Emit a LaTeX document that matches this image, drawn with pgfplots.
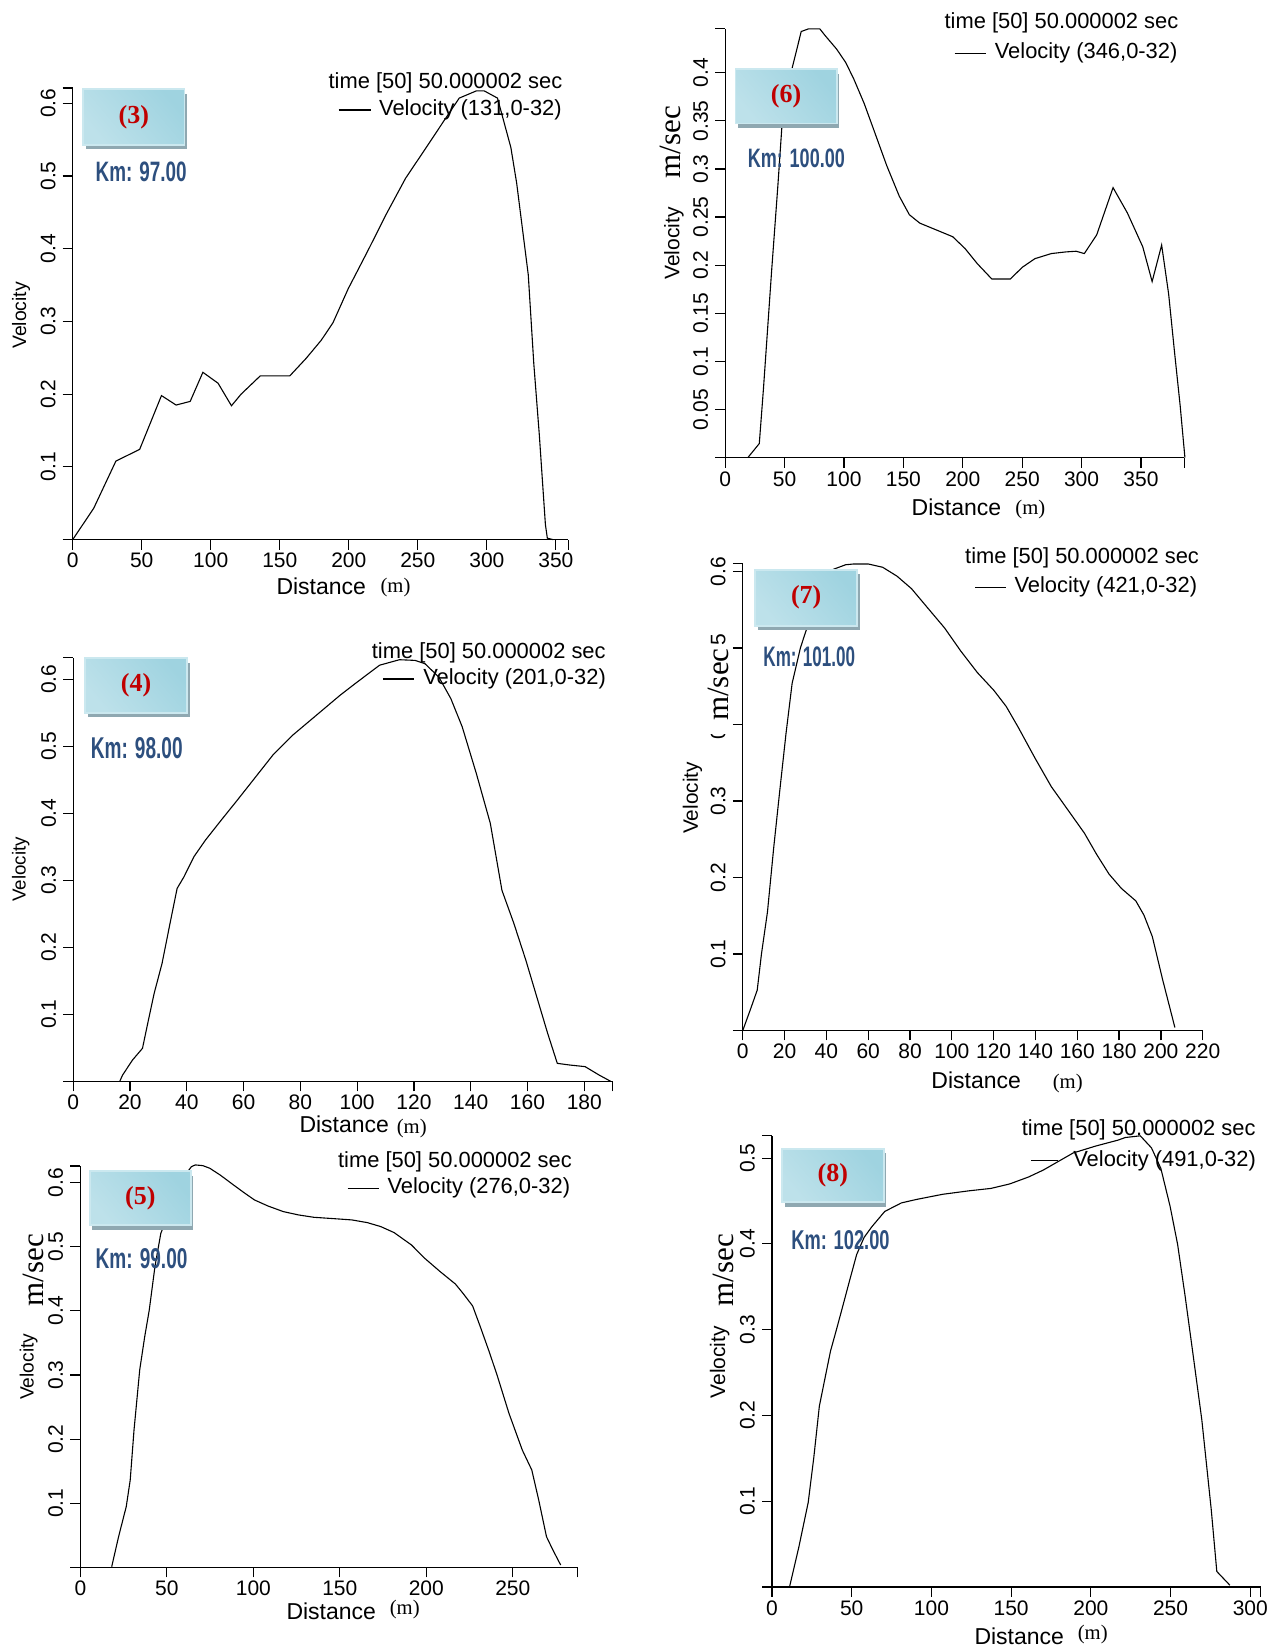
\documentclass[border=0pt]{standalone}
\usepackage{graphicx}
\usepackage{pgfplots}
\pgfplotsset{compat=1.18}
\usepackage{fontspec}
\setmainfont{Liberation Sans}
\newfontfamily\serifF{Liberation Serif}
\newcommand{\fs}[1]{\fontsize{#1}{#1}\selectfont}
\definecolor{boxA}{HTML}{9FD3E0}
\definecolor{boxM}{HTML}{E0F1F5}
\definecolor{boxB}{HTML}{BDE1EA}
\definecolor{boxE}{HTML}{CBE8EF}
\definecolor{shadowc}{HTML}{8FA8B1}
\definecolor{numred}{HTML}{C00000}
\definecolor{kmblue}{HTML}{2D4F7E}
\pgfplotsset{
  panel/.style={
    scale only axis, anchor=south west, clip=false,
    axis x line=bottom, axis y line=left,
    axis line style={-, line width=1.2pt, black},
    tick align=outside, major tick length=10pt,
    every tick/.style={black, line width=1.2pt},
    xmin=0, ymin=0,
    tick label style={font=\fs{21}},
    yticklabel style={rotate=90, anchor=south, inner sep=0pt},
    xticklabel style={anchor=north, inner sep=0pt},
    yticklabel shift=7pt, xticklabel shift=3.5pt,
  },
  curve/.style={black, line width=1.1pt, no markers},
}
\newcommand{\pbox}[5]{%
  \fill[shadowc] (#1+2.5,#2+4.5) rectangle (#3+2.5,#4+4.5);
  \shadedraw[top color=boxA, middle color=boxM, bottom color=boxB, shading angle=-50, draw=boxE, line width=1.8pt] (#1,#2) rectangle (#3,#4);
  \node[text=numred, font=\serifF\bfseries\fs{26}, inner sep=0pt] at ({(#1+#3)/2},{(#2+#4)/2}) {(#5)};
}
\newcommand{\km}[5]{\node[text=kmblue, inner sep=0pt] at (#1,#2) {\resizebox{#3pt}{#4pt}{\bfseries Km: #5}};}
\newcommand{\legend}[7]{%
  \node[font=\fs{21.9}, inner sep=0pt, anchor=west] at (#1,#2) {time [50] 50.000002 sec};
  \draw[line width=1.1pt] (#3,#5) -- (#4,#5);
  \node[font=\fs{21.9}, inner sep=0pt, anchor=west] at (#6,#5) {Velocity (#7,0-32)};
}
\newcommand{\xlab}[4]{%
  \node[font=\fs{23}, inner sep=0pt, anchor=west] at (#1,#2) {Distance};
  \node[font=\serifF\fs{20.7}, inner sep=0pt, anchor=west] at (#3,#4) {(m)};
}
\begin{document}
\begin{tikzpicture}[x=1pt,y=-1pt]
\path[use as bounding box] (0,0) rectangle (1285,1650);

% ---------------- Panel (3)
\begin{axis}[panel, at={(72.7pt,-539.6pt)}, width=495.6pt, height=451.7pt, xmax=359, ymax=0.621,
  xtick={0,50,100,150,200,250,300,350,359}, xticklabels={0,50,100,150,200,250,300,350,{}},
  ytick={0,0.1,0.2,0.3,0.4,0.5,0.6,0.621}, yticklabels={{},0.1,0.2,0.3,0.4,0.5,0.6,{}}]
\addplot[curve] coordinates {(0,0) (15.2,0.043) (31.3,0.108) (48.5,0.124) (64.3,0.198) (74.9,0.185) (85.1,0.19) (94.3,0.23) (105.3,0.215) (115,0.184) (122,0.2) (135.8,0.225) (157.2,0.225) (169,0.249) (180,0.274) (188.5,0.298) (199.6,0.345) (213.5,0.396) (227.3,0.448) (241.2,0.497) (255,0.536) (269,0.576) (280,0.607) (292.5,0.617) (298,0.617) (307.7,0.607) (317.4,0.539) (321.6,0.49) (330,0.364) (334,0.242) (338,0.144) (342.4,0.021) (343.8,0.002) (348,0)};
\end{axis}

% ---------------- Panel (6)
\begin{axis}[panel, at={(725.2pt,-457.7pt)}, width=459pt, height=429pt, xmax=386.4, ymax=0.4457,
  xtick={0,50,100,150,200,250,300,350,386.4}, xticklabels={0,50,100,150,200,250,300,350,{}},
  ytick={0,0.05,0.1,0.15,0.2,0.25,0.3,0.35,0.4,0.4457}, yticklabels={{},0.05,0.1,0.15,0.2,0.25,0.3,0.35,0.4,{}}]
\addplot[curve] coordinates {(19,0) (28.7,0.0147) (32.2,0.0716) (39.1,0.1945) (44.3,0.282) (47.8,0.3455) (56.4,0.405) (64,0.4428) (70.3,0.4456) (79.6,0.4456) (84.1,0.4386) (93.8,0.4245) (101.5,0.4105) (108.4,0.393) (117,0.368) (125.7,0.3385) (136,0.3034) (146.5,0.2718) (155,0.2525) (163.8,0.2437) (177.6,0.2367) (191.5,0.2296) (201.9,0.2173) (212.3,0.2015) (224.4,0.1857) (240,0.1857) (250.3,0.198) (260.7,0.2068) (274.6,0.2121) (286.7,0.2138) (295.4,0.2145) (302.3,0.2121) (312.7,0.2314) (326.5,0.2806) (338.6,0.2542) (351.5,0.2191) (359.4,0.183) (367.4,0.2209) (373.3,0.17) (378.5,0.1067) (383,0.054) (387,0)};
\end{axis}

% ---------------- Panel (4)
\begin{axis}[panel, at={(73.2pt,-1081.3pt)}, width=538.9pt, height=423.6pt, xmax=189.8, ymax=0.632,
  xtick={0,20,40,60,80,100,120,140,160,180,189.8}, xticklabels={0,20,40,60,80,100,120,140,160,180,{}},
  ytick={0,0.1,0.2,0.3,0.4,0.5,0.6,0.632}, yticklabels={{},0.1,0.2,0.3,0.4,0.5,0.6,{}}]
\addplot[curve] coordinates {(16.4,0) (17.4,0.0094) (20.9,0.0318) (24.4,0.0492) (26.5,0.0915) (28.5,0.131) (31.3,0.176) (34.1,0.2356) (36.6,0.2878) (39,0.305) (42.5,0.335) (46.6,0.36) (52.2,0.39) (57.8,0.4195) (63.3,0.449) (70.3,0.4866) (77.3,0.5164) (85.6,0.546) (94,0.576) (99.5,0.594) (107.9,0.6208) (114.9,0.629) (120.4,0.628) (123.9,0.623) (128.8,0.603) (133,0.571) (137,0.529) (142,0.459) (146.9,0.385) (151,0.285) (155.2,0.2356) (159.4,0.181) (163.6,0.1213) (167.1,0.0716) (170.5,0.0268) (174.7,0.0244) (180.3,0.0219) (185.2,0.0094) (189.3,0)};
\end{axis}

% ---------------- Panel (7)
\begin{axis}[panel, at={(742.8pt,-1030.4pt)}, width=459.9pt, height=467.2pt, xmax=220, ymax=0.611,
  xtick={0,20,40,60,80,100,120,140,160,180,200,220}, xticklabels={0,20,40,60,80,100,120,140,160,180,200,220},
  ytick={0,0.1,0.2,0.3,0.4,0.5,0.6,0.611}, yticklabels={{},0.1,0.2,0.3,0.4,0.5,0.6,{}}]
\addplot[curve] coordinates {(0,0) (3.9,0.0294) (6.9,0.0527) (8.9,0.0994) (11.8,0.155) (14.8,0.2394) (17.7,0.314) (20.7,0.389) (23.6,0.454) (27.6,0.5007) (31.5,0.533) (35.5,0.565) (39.5,0.59) (43.3,0.603) (49.2,0.609) (53.1,0.61) (60,0.61) (66.9,0.6057) (73.8,0.594) (80.7,0.5777) (88.6,0.552) (96.5,0.5264) (104.3,0.496) (112.2,0.468) (120.1,0.4447) (126,0.4237) (131.9,0.3957) (139.8,0.356) (147.6,0.3187) (155.5,0.2884) (163.4,0.258) (169.3,0.23) (175.2,0.2044) (181.1,0.1857) (188,0.1694) (191.9,0.1507) (195.9,0.1227) (200.8,0.0667) (206.7,0.0037)};
\end{axis}

% ---------------- Panel (5)
\begin{axis}[panel, at={(80.4pt,-1567.3pt)}, width=496.7pt, height=401.3pt, xmax=287.2, ymax=0.626,
  xtick={0,50,100,150,200,250,287.2}, xticklabels={0,50,100,150,200,250,{}},
  ytick={0,0.1,0.2,0.3,0.4,0.5,0.6,0.626}, yticklabels={{},0.1,0.2,0.3,0.4,0.5,0.6,{}}]
\addplot[curve] coordinates {(18.1,0.001) (22.1,0.048) (26.5,0.0946) (28.8,0.136) (31,0.214) (34.3,0.308) (37.2,0.36) (39.8,0.401) (43.1,0.469) (46.5,0.521) (48.2,0.5325) (55,0.58) (60,0.61) (64.2,0.625) (66.4,0.6277) (70.8,0.6266) (74.8,0.6225) (80.8,0.612) (88.5,0.5965) (95.1,0.5835) (100.7,0.573) (108.4,0.5637) (117.3,0.5549) (126.1,0.5497) (135,0.546) (146,0.544) (157,0.5419) (165.9,0.5377) (173.7,0.5315) (181.4,0.5221) (191.4,0.5029) (199.1,0.482) (208,0.4613) (216.8,0.442) (221.2,0.4275) (226.8,0.4077) (231.2,0.3755) (236.7,0.3338) (241.2,0.2975) (247.8,0.2402) (255.5,0.183) (261,0.1518) (265,0.105) (269.5,0.0478) (273.2,0.027) (277.7,0.0036)};
\end{axis}

% ---------------- Panel (8)
\begin{axis}[panel, at={(772pt,-1586.9pt)}, width=488.8pt, height=451.1pt, xmax=306.6, ymax=0.526,
  xtick={0,50,100,150,200,250,300,306.6}, xticklabels={0,50,100,150,200,250,300,{}},
  ytick={0,0.1,0.2,0.3,0.4,0.5,0.526}, yticklabels={{},0.1,0.2,0.3,0.4,0.5,{}}]
\addplot[curve] coordinates {(11,0) (16.8,0.0462) (22.7,0.0984) (26.2,0.1506) (29.7,0.2108) (33.2,0.243) (36.7,0.275) (40.3,0.2992) (43.8,0.3233) (48.4,0.3554) (53.1,0.3876) (57.8,0.4076) (62.5,0.4197) (70.7,0.4378) (81.2,0.4478) (90.6,0.4518) (107,0.4578) (123.3,0.4618) (137.4,0.4647) (149.1,0.4699) (160.8,0.4779) (170.1,0.486) (179.5,0.496) (188.9,0.506) (202.9,0.514) (216.9,0.5209) (221.6,0.524) (231,0.526) (238,0.512) (243.9,0.488) (249.7,0.4438) (254.4,0.3996) (259.1,0.3394) (263.8,0.2751) (269.6,0.1948) (275.5,0.0904) (279,0.018) (287.2,0.002)};
\end{axis}

% ---------------- legends
\legend{328.4}{82.7}{338.7}{370.5}{110}{378.9}{131}
\legend{944.4}{23.2}{954.7}{985.5}{53.1}{994.6}{346}
\legend{371.7}{652.8}{382.8}{414.4}{679}{423.1}{201}
\legend{965}{557.9}{975.3}{1006.1}{587.1}{1014.3}{421}
\legend{337.9}{1161.8}{347.5}{378.9}{1188.3}{387.3}{276}
\legend{1021.6}{1129.8}{1031.3}{1058.2}{1160.6}{1073.1}{491}

% ---------------- x labels
\xlab{276.3}{586}{380.4}{587.6}
\xlab{911.5}{506.8}{1015.2}{509.5}
\xlab{299.3}{1124.2}{396.6}{1128.3}
\xlab{931.2}{1080}{1052.6}{1083.8}
\xlab{286.3}{1611}{389.6}{1609.2}
\xlab{974.3}{1636}{1077.6}{1634.3}

% ---------------- y labels
\fill[white] (700,647) rectangle (732,734);
\begin{scope}[every node/.style={inner sep=0pt, rotate=90}]
\node[font=\fs{19.4}] at (21,315.4) {Velocity};
\node[font=\fs{21}] at (674,243.4) {Velocity};
\node[font=\fs{18.8}] at (20.8,869.2) {Velocity};
\node[font=\fs{20.8}] at (692.5,798) {Velocity};
\node[font=\fs{19.2}] at (28.7,1366.7) {Velocity};
\node[font=\fs{21}] at (719.6,1362.3) {Velocity};
\node[font=\serifF\fs{31}] at (670.9,142) {m/sec};
\node[font=\serifF\fs{31}] at (718,684.6) {m/sec};
\node[font=\serifF\fs{31}] at (33.5,1270) {m/sec};
\node[font=\serifF\fs{31}] at (723.3,1270) {m/sec};
\end{scope}

% ---------------- boxes
\pbox{83}{89.3}{184.5}{144.6}{3}
\pbox{735.4}{69.3}{836.6}{123.4}{6}
\pbox{85}{658.3}{187}{712.7}{4}
\pbox{755.2}{569.6}{857.2}{625.7}{7}
\pbox{89.9}{1171}{190.6}{1225}{5}
\pbox{782.1}{1148.6}{883.6}{1202.3}{8}

\km{141.2}{171.6}{91}{19.6}{97.00}
\km{796.4}{158}{97}{18.6}{100.00}
\km{136.8}{747.8}{91.8}{21}{98.00}
\km{809.3}{657}{91.7}{19.7}{101.00}
\km{141.6}{1258.3}{91.8}{20}{99.00}
\km{840.5}{1240}{98.2}{19}{102.00}
\end{tikzpicture}
\end{document}
